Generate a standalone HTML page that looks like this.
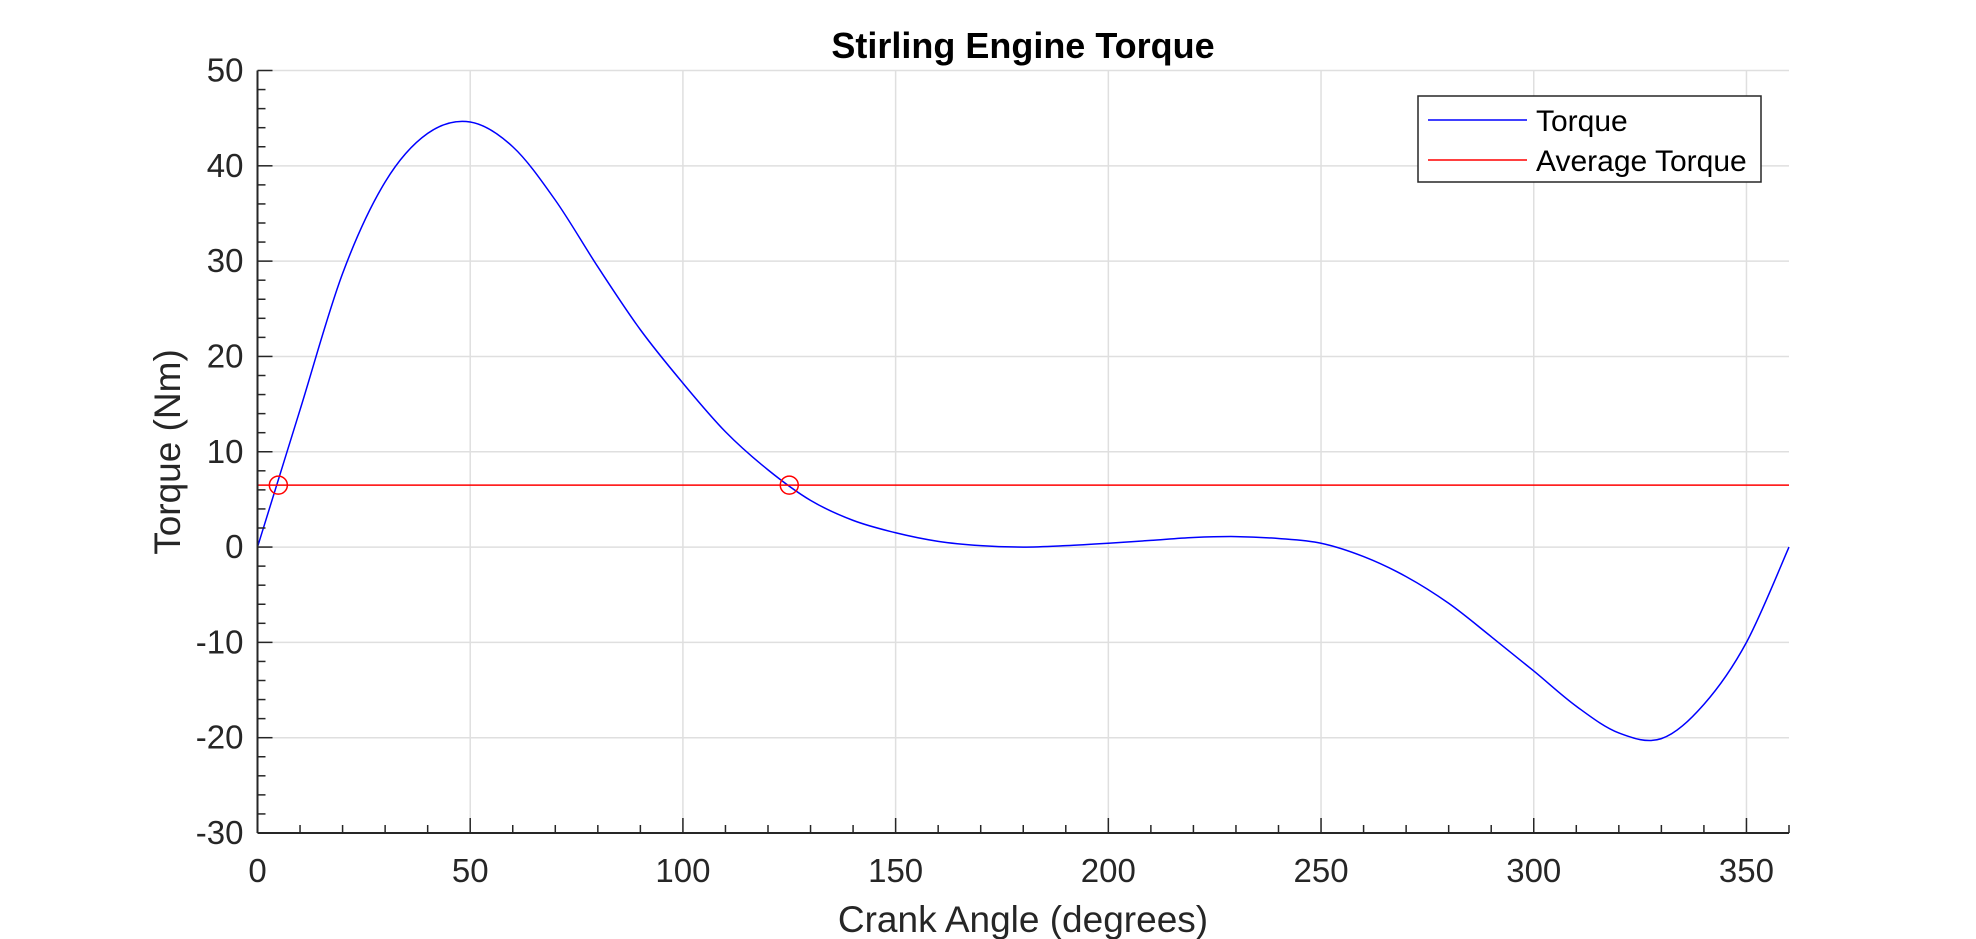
<!DOCTYPE html>
<html><head><meta charset="utf-8"><style>
html,body{margin:0;padding:0;background:#fff;}
svg{display:block;font-family:"Liberation Sans",Arial,sans-serif;}
</style></head><body>
<svg id="chart" width="1976" height="939" viewBox="0 0 1976 939">
<rect width="1976" height="939" fill="#fff"/>
<g id="grid"></g>
<g id="series"></g>
<g id="axes"></g>
<text x="1023" y="58" text-anchor="middle" font-size="36" font-weight="bold">Stirling Engine Torque</text>
<text x="1023" y="932" text-anchor="middle" font-size="37" fill="#262626">Crank Angle (degrees)</text>
<text x="0" y="0" transform="translate(180,452) rotate(-90)" text-anchor="middle" font-size="37" fill="#262626">Torque (Nm)</text>
<g>
<rect x="1418" y="96" width="343" height="86" fill="#fff" stroke="#262626" stroke-width="1.5"/>
<line x1="1428" y1="120" x2="1527" y2="120" stroke="#0000ff" stroke-width="1.5"/>
<text x="1536" y="131" font-size="30">Torque</text>
<line x1="1428" y1="160" x2="1527" y2="160" stroke="#ff0000" stroke-width="1.5"/>
<text x="1536" y="171" font-size="30">Average Torque</text>
</g>
</svg>
<script>
const angles=[0,10,20,30,40,50,60,70,80,90,100,110,120,130,140,150,160,170,180,190,200,210,220,230,240,250,260,270,280,290,300,310,320,330,340,350,360];
const torque=[0,14.4,28.7,38.3,43.4,44.6,42.0,36.4,29.4,22.8,17.2,12.1,8.1,4.9,2.8,1.5,0.6,0.15,0,0.15,0.4,0.7,1.0,1.1,0.9,0.4,-1.0,-3.1,-5.9,-9.4,-13.0,-16.7,-19.5,-20.1,-16.5,-10,0];
const averageTorque=[6.5];
const crossings=[4.9,125];
const xTicks=[0,50,100,150,200,250,300,350];
const yTicks=[-30,-20,-10,0,10,20,30,40,50];
const NS='http://www.w3.org/2000/svg';
const X0=257.5,X1=1789,Y0=833,Y1=70.5;
const xs=v=>X0+(v-0)/(360-0)*(X1-X0);
const ys=v=>Y0-(v+30)/80*(Y0-Y1);
function mk(tag,attrs,parent){const e=document.createElementNS(NS,tag);for(const k in attrs)e.setAttribute(k,attrs[k]);parent.appendChild(e);return e;}
const grid=document.getElementById('grid'),axes=document.getElementById('axes'),series=document.getElementById('series');
xTicks.forEach(t=>{if(t===0)return;const l=mk('line',{x1:xs(t),x2:xs(t),y1:Y1,y2:Y0,stroke:'#dfdfdf','stroke-width':1.5},grid);

});
yTicks.forEach(t=>{if(t===-30)return;const l=mk('line',{x1:X0,x2:X1,y1:ys(t),y2:ys(t),stroke:'#dfdfdf','stroke-width':1.5},grid);

});
mk('line',{x1:X0,x2:X1,y1:Y0,y2:Y0,stroke:'#262626','stroke-width':2},axes);
mk('line',{x1:X0,x2:X0,y1:Y0,y2:Y1,stroke:'#262626','stroke-width':2},axes);
for(let v=0;v<=360;v+=10){const major=v%50===0;mk('line',{x1:xs(v),x2:xs(v),y1:Y0,y2:Y0-(major?15:8),stroke:'#262626','stroke-width':1.5},axes);}
for(let v=-30;v<=50;v+=2){const major=v%10===0;mk('line',{x1:X0,x2:X0+(major?15:8),y1:ys(v),y2:ys(v),stroke:'#262626','stroke-width':1.5},axes);}
xTicks.forEach(t=>{const tx=mk('text',{x:xs(t),y:Y0+49,'text-anchor':'middle','font-size':33,fill:'#262626'},axes);tx.textContent=t;

});
yTicks.forEach(t=>{const tx=mk('text',{x:X0-14,y:ys(t)+11,'text-anchor':'end','font-size':33,fill:'#262626'},axes);tx.textContent=t;

});
const P=angles.map((a,i)=>[xs(a),ys(torque[i])]);
let d='M'+P[0][0]+','+P[0][1];
for(let i=0;i<P.length-1;i++){const p0=P[Math.max(0,i-1)],p1=P[i],p2=P[i+1],p3=P[Math.min(P.length-1,i+2)];
const c1=[p1[0]+(p2[0]-p0[0])/6,p1[1]+(p2[1]-p0[1])/6],c2=[p2[0]-(p3[0]-p1[0])/6,p2[1]-(p3[1]-p1[1])/6];
d+=' C'+c1[0]+','+c1[1]+' '+c2[0]+','+c2[1]+' '+p2[0]+','+p2[1];}
const path=mk('path',{d:d,fill:'none',stroke:'#0000ff','stroke-width':1.5},series);


const avg=mk('line',{x1:X0,x2:X1,y1:ys(averageTorque[0]),y2:ys(averageTorque[0]),stroke:'#ff0000','stroke-width':1.5},series);


crossings.forEach(c=>{const ci=mk('circle',{cx:xs(c),cy:ys(averageTorque[0]),r:9,fill:'none',stroke:'#ff0000','stroke-width':1.5},series);

});
</script>
</body></html>
